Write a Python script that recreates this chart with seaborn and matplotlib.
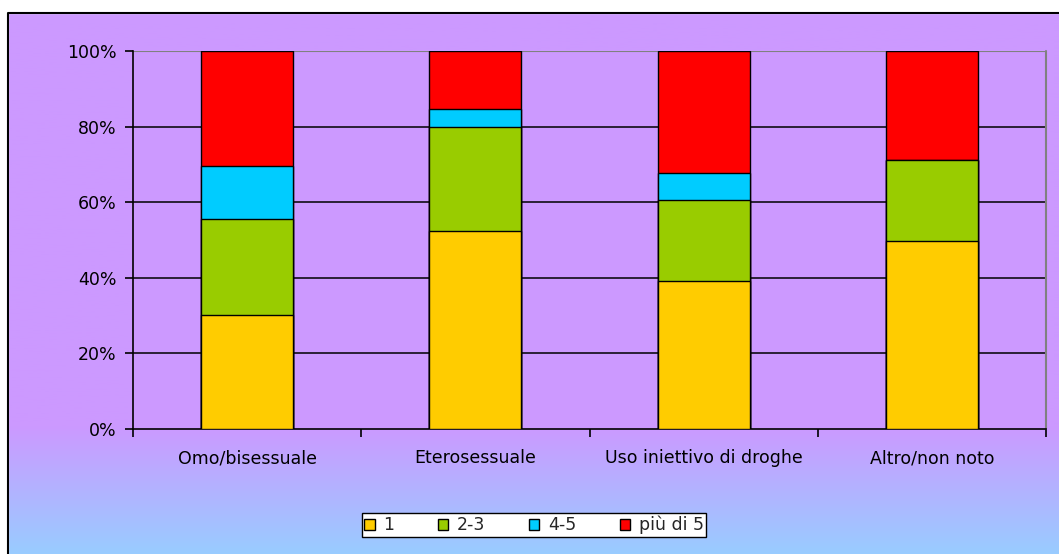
import numpy as np
import pandas as pd
import matplotlib
matplotlib.use("Agg")
import matplotlib.pyplot as plt
from matplotlib.colors import to_rgb
from matplotlib.patches import Patch, Rectangle
import seaborn as sns

# Share of cases by number of partners, per transmission category (%)
categories = ["Omo/bisessuale", "Eterosessuale", "Uso iniettivo di droghe", "Altro/non noto"]
series_names = ["1", "2-3", "4-5", "più di 5"]
v_1 = [30.2, 52.4, 39.2, 49.7]
v_2_3 = [25.3, 27.5, 21.4, 21.5]
v_4_5 = [14.2, 4.7, 7.2, 0.0]
v_piu_5 = [30.3, 15.4, 32.2, 28.8]
y_ticks = [0, 20, 40, 60, 80, 100]
y_tick_labels = ["0%", "20%", "40%", "60%", "80%", "100%"]

colors = ["#FFCC00", "#99CC00", "#00CCFF", "#FF0000"]
purple = "#CC99FF"
blue = "#99CCFF"
FS = 12.5

sns.set_theme(style="white")
plt.rcParams["font.family"] = ["DejaVu Sans"]

W, H = 1059, 554
fig = plt.figure(figsize=(W / 100, H / 100), dpi=100)

# Chart-area background: solid purple fading to light blue near the bottom
bg = fig.add_axes([0, 0, 1, 1], zorder=-10)
rows = np.linspace(0, 1, 400)  # 0 = top, 1 = bottom
t = np.clip((rows - 0.77) / (1 - 0.77), 0, 1)
c0, c1 = np.array(to_rgb(purple)), np.array(to_rgb(blue))
grad = (c0[None, :] * (1 - t[:, None]) + c1[None, :] * t[:, None])[:, None, :]
bg.imshow(grad, aspect="auto", extent=[0, 1, 0, 1], origin="upper")
bg.set_xlim(0, 1)
bg.set_ylim(0, 1)
bg.axis("off")
# White margin above/left of the chart frame, and the frame line itself
bg.add_patch(Rectangle((0, 0), 8 / W, 1, color="white", zorder=2))
bg.add_patch(Rectangle((0, 1 - 13 / H), 1, 13 / H, color="white", zorder=2))
bg.plot([8 / W, 8 / W, 1], [0, 1 - 13 / H, 1 - 13 / H], color="black", lw=1.5, zorder=3)

ax = fig.add_axes([133 / W, 1 - 429 / H, (1046 - 133) / W, (429 - 51) / H])
ax.set_facecolor(purple)

df = pd.DataFrame({"cat": categories, "1": v_1, "2-3": v_2_3, "4-5": v_4_5, "più di 5": v_piu_5})
cum = df[series_names].cumsum(axis=1)

# Stack by overlaying cumulative totals, tallest first
for name, col in reversed(list(zip(series_names, colors))):
    sns.barplot(data=cum.assign(cat=df["cat"]), x="cat", y=name, color=col, width=0.403,
                edgecolor="black", linewidth=1.0, saturation=1, ax=ax, zorder=3)

ax.set_xlim(-0.5, 3.5)
ax.set_ylim(0, 100)
ax.set_yticks(y_ticks)
ax.set_yticklabels(y_tick_labels)
ax.set_xlabel("")
ax.set_ylabel("")
for y in y_ticks[1:-1]:
    ax.axhline(y, color="black", lw=1.1, zorder=1)
ax.axhline(100, color="#808080", lw=1.5, zorder=1)

for s in ["top", "right"]:
    ax.spines[s].set_visible(False)
ax.plot([1, 1], [0, 1], transform=ax.transAxes, color="#808080", lw=1.5, zorder=1, clip_on=False)
ax.spines["left"].set_color("black")
ax.spines["bottom"].set_color("black")
ax.spines["left"].set_linewidth(1.2)
ax.spines["bottom"].set_linewidth(1.2)

ax.tick_params(axis="y", which="major", left=True, length=6, width=1.2, color="black",
               labelsize=FS, pad=6, labelcolor="black")
# Category labels centred, tick marks at the category boundaries
ax.tick_params(axis="x", which="major", bottom=False, labelsize=FS, pad=8.5, labelcolor="black")
ax.set_xticks([-0.5, 0.5, 1.5, 2.5, 3.5], minor=True)
ax.tick_params(axis="x", which="minor", bottom=True, length=6, width=1.2, color="black")

handles = [Patch(facecolor=c, edgecolor="black", linewidth=1) for c in colors]
leg = fig.legend(handles, series_names, loc="center", bbox_to_anchor=(534 / W, 1 - 525 / H),
                 ncol=4, fontsize=FS, frameon=True, fancybox=False, edgecolor="black",
                 framealpha=1.0, handlelength=0.6, handleheight=0.6, columnspacing=2.5,
                 handletextpad=0.5, borderpad=0.15, borderaxespad=0)
leg.get_frame().set_linewidth(1.0)
leg.get_frame().set_facecolor("white")

fig.savefig("out.png", dpi=100)
